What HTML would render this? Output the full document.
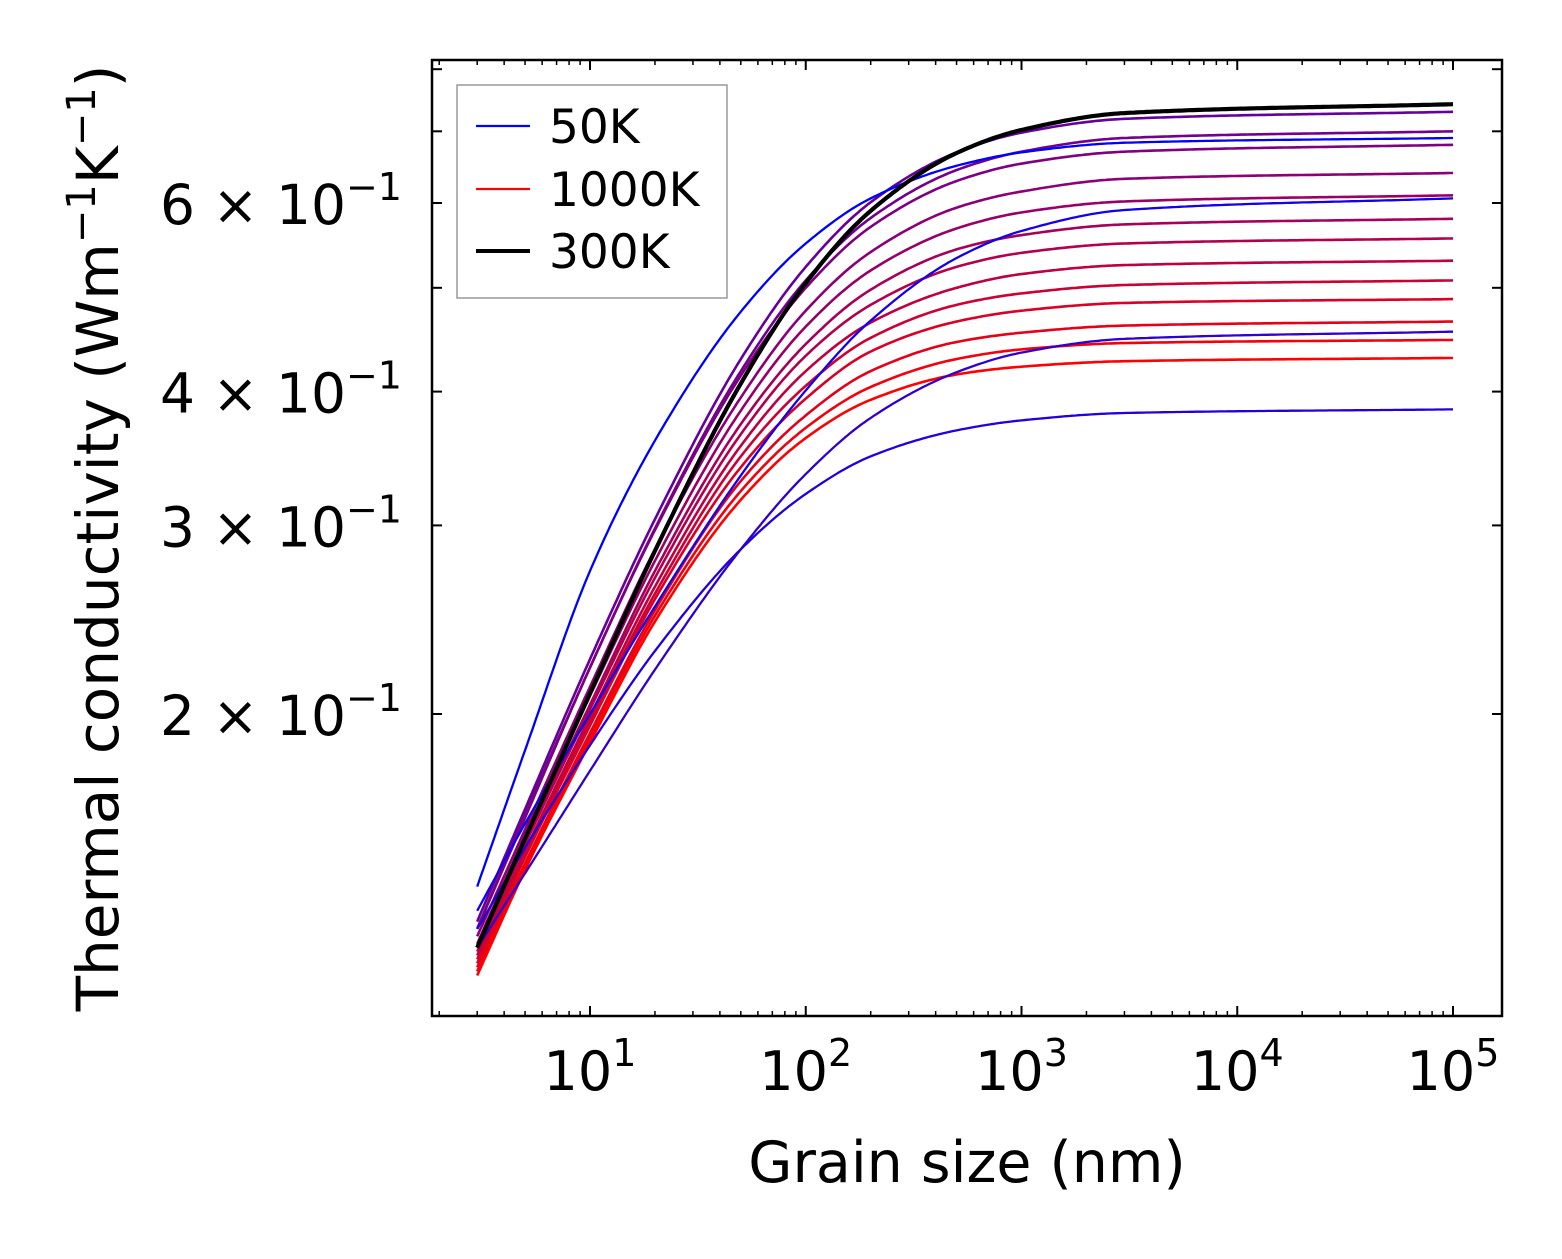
<!DOCTYPE html>
<html><head><meta charset="utf-8"><style>
html,body{margin:0;padding:0;background:#fff;}
svg text{font-family:"DejaVu Sans","Liberation Sans",sans-serif;fill:#000;}
</style></head><body>
<svg id="chart" width="1562" height="1254" viewBox="0 0 1562 1254" xmlns="http://www.w3.org/2000/svg">
<rect width="1562" height="1254" fill="#fff"/>
<g id="series"></g>
<g id="axes"></g>
<text x="967" y="1182" font-size="57" text-anchor="middle">Grain size (nm)</text>
<text transform="translate(118,538) rotate(-90)" font-size="58" text-anchor="middle">Thermal conductivity (Wm<tspan dy="-23" font-size="40">−1</tspan><tspan dy="23">K</tspan><tspan dy="-23" font-size="40">−1</tspan><tspan dy="23">)</tspan></text>
<g>
<rect x="457" y="85" width="270" height="213" fill="#fff" stroke="#999" stroke-width="1.5"/>
<line x1="476" y1="126" x2="530" y2="126" stroke="#0000ff" stroke-width="2.2"/>
<text x="549" y="143" font-size="47">50K</text>
<line x1="476" y1="189" x2="530" y2="189" stroke="#ff0000" stroke-width="2.2"/>
<text x="549" y="206" font-size="47">1000K</text>
<line x1="476" y1="251" x2="530" y2="251" stroke="#000" stroke-width="4"/>
<text x="549" y="268" font-size="47">300K</text>
</g>
</svg>
<script>
const grainSizes = [3, 5, 10, 20, 50, 100, 200, 500, 1000, 3000, 100000];
const bundleValues = [
 [0.128,0.163,0.225,0.304,0.429,0.523,0.601,0.669,0.698,0.719,0.730],
 [0.126,0.161,0.221,0.298,0.418,0.508,0.581,0.644,0.670,0.690,0.700],
 [0.126,0.160,0.221,0.297,0.414,0.500,0.570,0.629,0.653,0.670,0.680],
 [0.124,0.156,0.212,0.285,0.395,0.476,0.540,0.594,0.615,0.632,0.640],
 [0.122,0.154,0.208,0.278,0.384,0.460,0.519,0.568,0.588,0.602,0.610],
 [0.121,0.152,0.204,0.272,0.373,0.443,0.498,0.543,0.560,0.573,0.580],
 [0.120,0.151,0.202,0.268,0.365,0.432,0.482,0.523,0.539,0.550,0.556],
 [0.119,0.149,0.199,0.263,0.356,0.418,0.464,0.500,0.515,0.525,0.530],
 [0.118,0.148,0.197,0.259,0.348,0.405,0.449,0.482,0.494,0.503,0.508],
 [0.117,0.147,0.195,0.256,0.340,0.394,0.436,0.465,0.476,0.484,0.488],
 [0.116,0.145,0.192,0.250,0.330,0.380,0.418,0.445,0.454,0.461,0.465],
 [0.115,0.144,0.190,0.247,0.323,0.370,0.404,0.429,0.438,0.444,0.447],
 [0.114,0.143,0.188,0.244,0.317,0.362,0.393,0.415,0.422,0.427,0.430]
];
const blueValues = [
 [0.138,0.185,0.272,0.360,0.475,0.550,0.606,0.650,0.669,0.683,0.690],
 [0.131,0.158,0.200,0.252,0.334,0.401,0.466,0.533,0.565,0.591,0.606],
 [0.126,0.150,0.187,0.229,0.285,0.321,0.348,0.368,0.376,0.382,0.385],
 [0.121,0.142,0.177,0.220,0.285,0.335,0.378,0.417,0.435,0.448,0.455]
];
const blueColors = ['#0000ff','#1400eb','#2200dd','#3000cf'];
const value300K = [0.121,0.153,0.209,0.284,0.407,0.505,0.590,0.668,0.702,0.728,0.742];
const xTickLabels = ['1','2','3','4','5'];
const yTickValues = [0.2,0.3,0.4,0.6];
const yTickLabels = ['2','3','4','6'];

const NS='http://www.w3.org/2000/svg';
const X0=590, XD=215.75;
const Y0=714, YD=1071;
function xs(v){return X0+(Math.log10(v)-1)*XD;}
function ys(v){return Y0-(Math.log10(v)-Math.log10(0.2))*YD;}
function monotone(xv,yv){
  const n=xv.length,d=[],m=new Array(n);
  for(let i=0;i<n-1;i++)d.push((yv[i+1]-yv[i])/(xv[i+1]-xv[i]));
  m[0]=d[0];m[n-1]=d[n-2];
  for(let i=1;i<n-1;i++){
    if(d[i-1]*d[i]<=0)m[i]=0;
    else{const w1=2*(xv[i+1]-xv[i])+(xv[i]-xv[i-1]),w2=(xv[i+1]-xv[i])+2*(xv[i]-xv[i-1]);m[i]=(w1+w2)/(w1/d[i-1]+w2/d[i]);}
  }
  return function(x){
    let i=0;while(i<n-2&&x>xv[i+1])i++;
    const h=xv[i+1]-xv[i],t=(x-xv[i])/h,t2=t*t,t3=t2*t;
    return (2*t3-3*t2+1)*yv[i]+(t3-2*t2+t)*h*m[i]+(-2*t3+3*t2)*yv[i+1]+(t3-t2)*h*m[i+1];
  };
}
function pathFor(vals){
  const lx=grainSizes.map(Math.log10),ly=vals.map(Math.log10);
  const f=monotone(lx,ly);
  let d='';
  const N=300;
  for(let k=0;k<=N;k++){
    const x=lx[0]+(lx[lx.length-1]-lx[0])*k/N;
    const px=X0+(x-1)*XD,py=ys(Math.pow(10,f(x)));
    d+=(k?'L':'M')+px.toFixed(1)+','+py.toFixed(1);
  }
  return d;
}
const sg=document.getElementById('series');
function addLine(vals,color,w,name){
  const el=document.createElementNS(NS,'path');
  el.setAttribute('d',pathFor(vals));
  el.setAttribute('fill','none');
  el.setAttribute('stroke',color);
  el.setAttribute('stroke-width',w);
  el.setAttribute('stroke-linejoin','round');
  
  
  sg.appendChild(el);
}
bundleValues.forEach((v,i)=>{
  const t=i/(bundleValues.length-1);
  const r=Math.round(100+155*t),b=Math.round(155-155*t);
  addLine(v,'rgb('+r+',0,'+b+')',2.6,'series-line-'+i);
});
blueValues.forEach((v,i)=>addLine(v,blueColors[i],2.3,'series-line-blue-'+i));
addLine(value300K,'#000',4.2,'series-line-300k');

const ag=document.getElementById('axes');
function ln(x1,y1,x2,y2,w,name){
  const el=document.createElementNS(NS,'line');
  el.setAttribute('x1',x1);el.setAttribute('y1',y1);el.setAttribute('x2',x2);el.setAttribute('y2',y2);
  el.setAttribute('stroke','#000');el.setAttribute('stroke-width',w);
  
  
  ag.appendChild(el);
}
const L=432,R=1502,T=60,B=1016;
for(let e=0;e<=5;e++){
  for(let m=1;m<=9;m++){
    const x=xs(m*Math.pow(10,e));
    if(x<L+1||x>R-1)continue;
    const len=m===1?10:5;
    ln(x,B,x,B-len,m===1?2:1.5,'x-tick');
    ln(x,T,x,T+len,m===1?2:1.5,'x-tick-top');
  }
}
xTickLabels.forEach((s,i)=>{
  const x=xs(Math.pow(10,i+1));
  const t=document.createElementNS(NS,'text');
  t.setAttribute('x',x);t.setAttribute('y',1090);t.setAttribute('font-size','54');t.setAttribute('text-anchor','middle');
  t.innerHTML='10<tspan dy="-24" font-size="38">'+s+'</tspan>';
  
  
  ag.appendChild(t);
});
[0.2,0.3,0.4,0.5,0.6,0.7,0.8].forEach(v=>{
  const y=ys(v);
  ln(L,y,L+10,y,2,'y-tick');
  ln(R,y,R-10,y,2,'y-tick-right');
});
yTickValues.forEach((v,i)=>{
  const t=document.createElementNS(NS,'text');
  t.setAttribute('x',402);t.setAttribute('y',ys(v)+21);t.setAttribute('font-size','55');t.setAttribute('text-anchor','end');
  t.innerHTML=yTickLabels[i]+' × 10<tspan dy="-24" font-size="38">−1</tspan>';
  
  
  ag.appendChild(t);
});
const fr=document.createElementNS(NS,'rect');
fr.setAttribute('x',L);fr.setAttribute('y',T);fr.setAttribute('width',R-L);fr.setAttribute('height',B-T);
fr.setAttribute('fill','none');fr.setAttribute('stroke','#000');fr.setAttribute('stroke-width','2.5');


ag.appendChild(fr);
</script>
</body></html>
